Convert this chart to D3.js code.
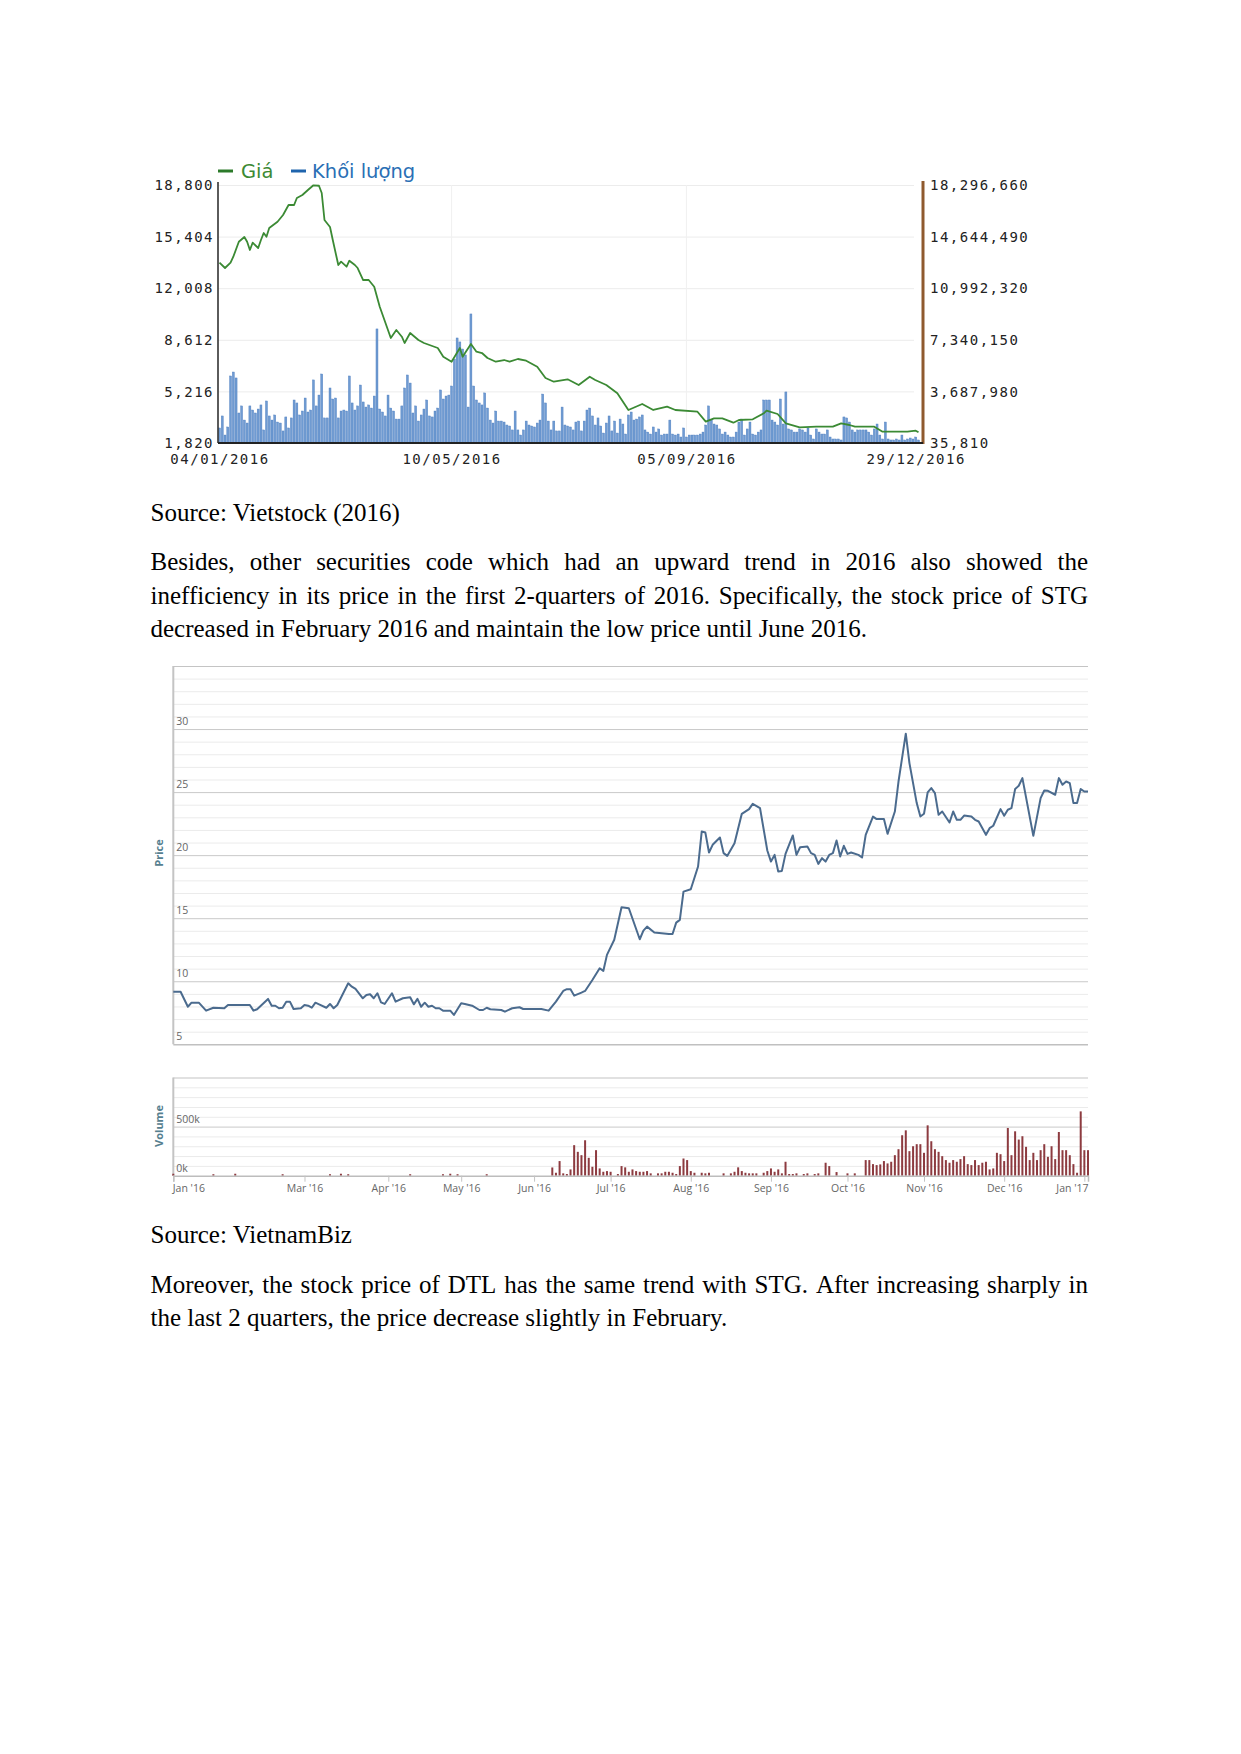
<!DOCTYPE html>
<html><head><meta charset="utf-8">
<script src="https://cdn.jsdelivr.net/npm/d3@7"></script>
<style>body{margin:0;background:#fff}</style>
</head><body><svg id="page" width="1241" height="1754"></svg>
<script>
// ---------------- Chart 1 data (Vietstock) ----------------
const giaTicks = [1820, 5216, 8612, 12008, 15404, 18800];
const klTicks = [35810, 3687980, 7340150, 10992320, 14644490, 18296660];
const dateTickIdx = [0, 84, 169, 252];
const dateLabels = ["04/01/2016", "10/05/2016", "05/09/2016", "29/12/2016"];
const legendLabels = ["Giá", "Khối lượng"];
// price: session index / value
const giaIdx = [0,2,4,5,7,9,10,11,12,14,15,16,17,18,21,23,25,27,28,30,32,34,36,37,38,40,41,43,44,46,
  47,49,50,52,54,56,58,62,64,66,67,69,72,74,76,79,81,84,87,88,91,93,95,97,100,103,105,108,111,115,
  118,121,126,130,134,136,140,144,148,153,157,162,165,173,176,179,182,186,188,193,197,198,202,205,210,216,222,225,228,230,
  234,237,240,245,249,252,253];
const giaVal = [13686,13337,13686,14080,15068,15377,15068,14521,15002,14653,15179,15640,15397,15969,16384,16825,17483,17483,17944,18141,18470,18780,18750,18273,16496,16035,15179,13535,13752,13423,
  13818,13535,13337,12547,12547,12106,10790,8730,9256,8815,8401,9059,8598,8401,8269,8072,7499,7170,8072,7499,8335,7828,7743,7414,7170,7282,7170,7348,7236,6841,
  6098,5854,6012,5637,6183,5966,5637,5091,3990,4387,3992,4209,3992,3880,3222,3445,3445,3156,3334,3380,3774,3946,3729,3117,2853,2893,2893,3117,3005,2893,
  2893,2893,2564,2564,2564,2630,2524];
// volume in millions of shares, one per session
const khoiLuong = [
  1.10,1.95,0.60,1.17,4.78,5.06,4.64,2.16,2.66,1.66, 1.45,2.66,2.37,2.16,2.44,2.73,0.96,3.01,1.95,1.66,
  2.02,1.52,1.45,0.89,1.88,1.10,1.81,3.08,2.87,2.02, 2.30,3.22,2.23,2.37,4.50,2.66,3.43,4.92,1.81,1.81,
  3.93,3.15,3.22,1.81,2.30,2.37,2.30,4.78,2.87,2.37, 2.66,4.14,2.94,2.58,2.73,2.51,3.36,8.11,2.44,2.23,
  1.95,3.43,2.51,2.30,1.73,1.73,2.66,3.93,4.85,4.28, 2.16,2.66,1.59,2.02,2.44,3.08,1.95,1.88,2.30,2.51,
  3.79,3.15,3.36,3.43,4.07,5.98,7.47,7.19,6.69,6.27, 2.58,9.17,4.07,3.08,2.87,2.73,3.58,2.51,1.66,1.45,
  2.30,1.59,1.59,1.52,1.31,1.24,0.96,2.30,0.96,0.60, 0.96,1.59,1.31,1.24,1.17,1.45,1.66,3.50,2.87,1.59,
  0.96,1.59,0.89,0.89,2.58,1.31,1.24,1.17,0.96,1.52, 1.59,0.89,1.59,2.37,2.51,1.95,1.31,1.81,1.24,0.74,
  1.45,1.95,0.89,1.59,0.74,
  1.73,1.38,0.67,2.02,2.23,1.66,1.73,1.88,2.02,0.96, 0.81,0.67,1.17,0.81,1.03,0.60,0.67,0.67,1.66,0.67,
  0.60,0.67,0.46,1.10,0.46,0.60,0.60,0.60,0.60,0.67, 0.81,1.31,2.66,1.66,1.38,1.31,1.03,0.67,0.81,0.60,
  0.46,0.46,0.81,1.52,1.73,0.60,1.03,1.52,0.67,0.60, 0.81,0.96,3.08,3.08,3.08,1.66,1.52,1.31,3.15,1.38,
  3.65,1.03,0.96,0.81,0.81,1.03,0.96,0.81,1.10,0.60, 0.32,1.03,0.81,0.67,0.67,0.96,0.46,0.32,0.32,0.32,
  0.25,1.88,1.81,1.52,0.96,0.81,0.96,0.96,0.96,0.96, 0.81,0.60,1.03,1.38,0.60,0.32,1.52,0.32,0.25,0.25,
  0.32,0.25,0.60,0.25,0.32,0.39,0.32,0.46,0.25];

// ---------------- Chart 2 data (VietnamBiz, STG) ----------------
const priceTicks2 = [5, 10, 15, 20, 25, 30];
const volTicks2 = [0, 500];
const monthIdx = [0, 36, 59, 79, 99, 120, 142, 164, 185, 206, 228, 250];
const monthLabels = ["Jan '16","Mar '16","Apr '16","May '16","Jun '16","Jul '16","Aug '16","Sep '16","Oct '16","Nov '16","Dec '16","Jan '17"];
const priceIdx2 = [0,2,4,5,7,9,11,14,15,21,22,23,26,27,28,29,30,31,32,33,35,36,37,38,39,40,42,43,44,45,
  48,49,50,52,53,54,55,56,57,58,60,61,63,65,66,67,68,69,70,71,72,73,74,76,77,79,80,82,84,85,
  86,87,90,91,93,95,96,101,103,105,107,108,109,110,112,113,115,117,118,119,121,123,125,128,129,130,132,136,137,138,
  139,140,142,144,145,146,147,148,150,151,152,154,156,158,159,161,163,164,165,166,167,168,170,171,172,174,175,176,177,178,
  179,180,181,182,183,184,185,186,188,189,190,192,193,195,196,198,199,201,202,204,205,206,207,208,209,210,211,213,214,215,
  216,217,219,220,221,223,224,225,227,228,229,230,231,232,233,236,238,239,240,242,243,244,245,246,247,248,249,250,251];
const priceVal2 = [9.17,9.17,7.98,8.30,8.30,7.67,7.90,7.86,8.12,8.12,7.67,7.78,8.60,8.06,8.06,7.86,7.90,8.38,8.38,7.80,7.86,8.12,8.06,7.90,8.30,8.17,7.90,8.20,7.86,8.12,
  9.84,9.57,9.39,8.65,8.91,8.97,8.65,9.05,8.33,8.20,9.05,8.38,8.65,8.73,8.17,8.60,7.98,8.30,7.98,8.06,7.86,7.86,7.67,7.67,7.33,8.25,8.20,8.06,7.72,7.72,
  7.90,7.78,7.72,7.59,7.86,7.94,7.80,7.80,7.67,8.38,9.23,9.37,9.37,8.86,9.10,9.23,10.10,11.03,10.82,12.09,13.29,15.87,15.79,13.33,14.02,14.33,13.86,13.75,13.75,14.65,
  14.87,17.11,17.30,19.10,21.87,21.79,20.21,20.82,21.40,20.16,19.94,20.95,23.28,23.65,24.07,23.73,20.37,19.49,20.02,18.70,18.75,20.10,21.56,20.02,20.63,20.68,20.16,20.02,19.31,19.76,
  19.49,20.02,20.16,21.16,19.89,20.74,20.10,20.21,20.02,19.81,21.61,23.06,22.86,22.86,21.69,23.46,25.84,29.63,27.30,24.13,23.06,23.28,24.97,25.32,24.92,23.20,23.46,22.59,23.46,22.80,
  22.80,23.14,23.06,22.80,22.67,21.61,22.14,22.33,23.65,23.12,23.60,23.73,25.24,25.50,26.11,21.53,24.52,25.13,25.10,24.79,26.11,25.58,25.84,25.71,24.13,24.13,25.24,25.05,25.05];
// volume in thousands of shares
const volIdx2 = [0,11,17,30,43,46,48,65,74,76,78,86,
  104,105,106,107,108,109,110,111,112,113,114,115,116,117,118,119,120,122,123,124,125,126,127,128,129,130,131,133,134,135,136,137,138,139,140,141,142,143,
  145,146,147,151,153,154,155,156,157,158,159,160,162,163,164,165,166,167,168,169,170,171,173,174,176,177,179,180,182,185,187,
  190,191,192,193,194,195,196,197,198,199,200,201,202,203,204,205,206,207,208,209,210,211,212,213,214,215,216,217,218,219,220,
  221,222,223,224,225,226,227,228,229,230,231,232,233,234,235,236,237,238,239,240,241,242,243,244,245,246,247,248,249,250,251];
const volVal2 = [20,15,20,15,15,20,15,15,15,20,15,15,
  84,30,149,24,17,64,311,243,209,361,182,91,260,74,40,47,40,17,98,85,40,64,47,40,40,47,24,24,24,40,40,30,17,98,175,159,47,30,
  30,24,30,24,24,40,85,47,30,24,24,24,30,47,74,40,64,24,142,17,17,24,17,24,17,24,132,98,37,24,24,
  159,159,118,108,115,149,125,142,209,270,412,462,250,300,321,321,233,513,351,270,243,199,159,132,159,142,169,199,118,108,159,
  108,132,142,64,74,233,219,149,486,209,452,368,402,294,159,233,159,260,321,192,300,169,445,260,260,209,118,30,655,260,260];

// ---------------- Text ----------------
const source1 = "Source: Vietstock (2016)";
const para1 = [
  {t:"Besides, other securities code which had an upward trend in 2016 also showed the", j:true},
  {t:"inefficiency in its price in the first 2-quarters of 2016. Specifically, the stock price of STG", j:true},
  {t:"decreased in February 2016 and maintain the low price until June 2016.", j:false}];
const source2 = "Source: VietnamBiz";
const para2 = [
  {t:"Moreover, the stock price of DTL has the same trend with STG. After increasing sharply in", j:true},
  {t:"the last 2 quarters, the price decrease slightly in February.", j:false}];

const svg = d3.select('#page');
svg.append('rect').attr('width',1241).attr('height',1754).attr('fill','#fff');

// ================= CHART 1 =================
const c1 = {l:218, r:920, t:185, b:443, ra:923};
const g1 = svg.append('g');
const x1 = d3.scaleLinear().domain([0, khoiLuong.length-1]).range([219.5, 918.5]);
const y1 = d3.scaleLinear().domain([giaTicks[0], giaTicks[giaTicks.length-1]]).range([c1.b, c1.t]);
const y1v = d3.scaleLinear().domain([klTicks[0], klTicks[klTicks.length-1]]).range([c1.b, c1.t]);
const monoFont = "'DejaVu Sans Mono', monospace";

// grid
const grid1 = g1.append('g').attr('transform',`translate(${c1.l},0)`)
  .call(d3.axisLeft(y1).tickValues(giaTicks).tickSize(-(c1.r - c1.l - 6)).tickFormat(''));
grid1.select('.domain').remove();
grid1.selectAll('line').attr('stroke','#ececec');
g1.selectAll('.vgrid').data(dateTickIdx.slice(1,3)).join('line')
  .attr('x1',d=>x1(d)).attr('x2',d=>x1(d)).attr('y1',c1.t).attr('y2',c1.b)
  .attr('stroke','#f0f0f0');

// bars
g1.selectAll('.kl').data(khoiLuong).join('rect')
  .attr('x',(d,i)=>x1(i)-1).attr('width',2)
  .attr('y',d=>y1v(d*1e6)).attr('height',d=>c1.b - y1v(d*1e6))
  .attr('fill','#6f9bd2').attr('stroke','#4b7cbe').attr('stroke-width',0.4);

// price line
const gia = giaIdx.map((d,i)=>[d, giaVal[i]]);
g1.append('path').datum(gia)
  .attr('d', d3.line().x(d=>x1(d[0])).y(d=>y1(d[1])))
  .attr('fill','none').attr('stroke','#3b8a34').attr('stroke-width',1.8).attr('stroke-linejoin','round');

// axes
const ax1L = g1.append('g').attr('transform',`translate(${c1.l},0)`)
  .call(d3.axisLeft(y1).tickValues(giaTicks).tickFormat(d3.format(',')).tickSize(0).tickPadding(4));
ax1L.select('.domain').remove();
ax1L.selectAll('text').attr('font-family',monoFont).attr('font-size',14).attr('letter-spacing',1.5)
  .attr('fill','#222').attr('dy','0.33em');
g1.append('line').attr('x1',c1.l).attr('x2',c1.l).attr('y1',c1.t-3).attr('y2',c1.b)
  .attr('stroke','#333').attr('stroke-width',1.6);

const ax1R = g1.append('g').attr('transform',`translate(${c1.ra},0)`)
  .call(d3.axisRight(y1v).tickValues(klTicks).tickFormat(d3.format(',')).tickSize(0).tickPadding(7));
ax1R.select('.domain').remove();
ax1R.selectAll('text').attr('font-family',monoFont).attr('font-size',14).attr('letter-spacing',1.5)
  .attr('fill','#222').attr('dy','0.33em');
g1.append('line').attr('x1',c1.ra).attr('x2',c1.ra).attr('y1',c1.t-4).attr('y2',c1.b+1)
  .attr('stroke','#8f5a2e').attr('stroke-width',3);

const ax1B = g1.append('g').attr('transform',`translate(0,${c1.b})`)
  .call(d3.axisBottom(x1).tickValues(dateTickIdx).tickFormat((d,i)=>dateLabels[i]).tickSize(0).tickPadding(11));
ax1B.select('.domain').remove();
ax1B.selectAll('text').attr('font-family',monoFont).attr('font-size',14).attr('letter-spacing',1.5).attr('fill','#222');
g1.append('line').attr('x1',c1.l).attr('x2',c1.ra).attr('y1',c1.b).attr('y2',c1.b)
  .attr('stroke','#222').attr('stroke-width',2);

// legend
const legColors = [['#2c7a2a','#3c8a34'], ['#1f64ad','#2a6fb5']];
const legX = [[218, 241], [291, 312]];
legendLabels.forEach((lab,i)=>{
  g1.append('line').attr('x1',legX[i][0]).attr('x2',legX[i][0]+15).attr('y1',171).attr('y2',171)
    .attr('stroke',legColors[i][0]).attr('stroke-width',3);
  g1.append('text').attr('x',legX[i][1]).attr('y',178).text(lab)
    .attr('font-family',"'DejaVu Sans', sans-serif").attr('font-size',19.5).attr('fill',legColors[i][1]);
});

// ================= CHART 2 =================
const c2 = {l:173.3, r:1088, t:666, b:1044.3, vt:1077.5, vb:1175.7};
const g2 = svg.append('g');
const x2 = d3.scaleLinear().domain([0, 251]).range([c2.l, c2.r]);
const y2 = d3.scaleLinear().domain([5, 35]).range([c2.b, c2.t]);
const y2v = d3.scaleLinear().domain([0, 1000]).range([c2.vb, c2.vt]);
const hcFont = "'Open Sans', 'DejaVu Sans', sans-serif";

function hgrid(g, scale, values, color, w){
  const a = g.append('g').attr('transform',`translate(${c2.l},0)`)
    .call(d3.axisLeft(scale).tickValues(values).tickSize(-(c2.r - c2.l)).tickFormat(''));
  a.select('.domain').remove();
  a.selectAll('line').attr('stroke',color).attr('stroke-width',w);
}
hgrid(g2, y2, d3.range(6, 35).filter(v=>v%5!==0), '#ebebeb', 1);
hgrid(g2, y2, [10,15,20,25,30], '#c9c9c9', 1);
hgrid(g2, y2, [35], '#c4c4c4', 1.2);
hgrid(g2, y2, [5], '#c0c0c0', 1.5);
hgrid(g2, y2v, d3.range(100, 1000, 100).filter(v=>v!==500), '#ebebeb', 1);
hgrid(g2, y2v, [500], '#c9c9c9', 1);
hgrid(g2, y2v, [1000], '#c4c4c4', 1.2);

// left borders
g2.append('line').attr('x1',c2.l).attr('x2',c2.l).attr('y1',c2.t).attr('y2',c2.b).attr('stroke','#c4c4c4').attr('stroke-width',2);
g2.append('line').attr('x1',c2.l).attr('x2',c2.l).attr('y1',c2.vt).attr('y2',c2.vb).attr('stroke','#c4c4c4').attr('stroke-width',2);

// price labels
g2.selectAll('.pl').data(priceTicks2).join('text')
  .attr('x',c2.l+3).attr('y',d=>y2(d)-4).text(d=>d)
  .attr('font-family',hcFont).attr('font-size',10.5).attr('fill','#666');
g2.selectAll('.vl').data(volTicks2).join('text')
  .attr('x',c2.l+3).attr('y',d=>y2v(d)-4).text(d=>d+'k')
  .attr('font-family',hcFont).attr('font-size',10.5).attr('fill','#666');

// axis titles
g2.append('text').attr('transform',`translate(163,853) rotate(-90)`).attr('text-anchor','middle')
  .text('Price').attr('font-family',hcFont).attr('font-size',11).attr('font-weight','bold').attr('fill','#56808f');
g2.append('text').attr('transform',`translate(163,1126) rotate(-90)`).attr('text-anchor','middle')
  .text('Volume').attr('font-family',hcFont).attr('font-size',11).attr('font-weight','bold').attr('fill','#56808f');

// volume bars
const vol2 = volIdx2.map((d,i)=>[d, volVal2[i]]);
g2.selectAll('.vb').data(vol2).join('rect')
  .attr('x',d=>x2(d[0])-1).attr('width',2)
  .attr('y',d=>y2v(d[1])).attr('height',d=>c2.vb - y2v(d[1]))
  .attr('fill','#8d3b40');

// x axis (months)
const ax2 = g2.append('g').attr('transform',`translate(0,${c2.vb})`)
  .call(d3.axisBottom(x2).tickValues(monthIdx).tickFormat((d,i)=>monthLabels[i]).tickSize(6).tickPadding(3));
ax2.select('.domain').attr('stroke','#bdbdbd').attr('stroke-width',1.5);
ax2.selectAll('.tick line').attr('stroke','#c4c4c4');
ax2.selectAll('text').attr('font-family',hcFont).attr('font-size',10.5).attr('fill','#666');
ax2.selectAll('.tick text').filter((d,i)=>i===0).attr('text-anchor','start').attr('dx',-1);
ax2.selectAll('.tick text').filter((d,i)=>i===monthIdx.length-1).attr('text-anchor','end').attr('dx',c2.r - x2(monthIdx[monthIdx.length-1]));

// price line
const price2 = priceIdx2.map((d,i)=>[d, priceVal2[i]]);
g2.append('path').datum(price2)
  .attr('d', d3.line().x(d=>x2(d[0])).y(d=>y2(d[1])))
  .attr('fill','none').attr('stroke','#4b6b8e').attr('stroke-width',2).attr('stroke-linejoin','round');

// ================= TEXT =================
const textX = 150.5, textR = 1088;
const serif = "'Liberation Serif', 'Times New Roman', serif";
const fs = 25;
function plain(str, y){
  svg.append('text').attr('x',textX).attr('y',y).text(str)
    .attr('font-family',serif).attr('font-size',fs).attr('fill','#000');
}
function paragraph(lines, y0, lh){
  lines.forEach((ln,k)=>{
    const y = y0 + k*lh;
    if(!ln.j){ plain(ln.t, y); return; }
    const words = ln.t.split(' ');
    const nodes = words.map(w=>svg.append('text').attr('y',y).text(w)
      .attr('font-family',serif).attr('font-size',fs).attr('fill','#000'));
    const widths = nodes.map(n=>n.node().getComputedTextLength());
    const total = d3.sum(widths);
    const gap = (textR - textX - total)/(words.length-1);
    let x = textX;
    nodes.forEach((n,i)=>{ n.attr('x',x); x += widths[i] + gap; });
  });
}
plain(source1, 521);
paragraph(para1, 570, 33.5);
plain(source2, 1243);
paragraph(para2, 1293, 33);
</script></body></html>
